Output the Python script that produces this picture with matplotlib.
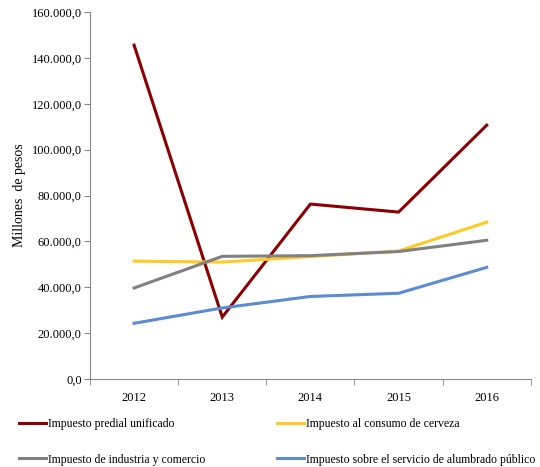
import matplotlib
matplotlib.use("Agg")
import matplotlib.pyplot as plt
from matplotlib.ticker import FuncFormatter
import numpy as np

years = ["2012", "2013", "2014", "2015", "2016"]
predial = [145600, 27000, 76300, 72800, 110700]
cerveza = [51400, 51000, 53400, 55800, 68400]
industria = [39700, 53500, 53800, 55600, 60500]
alumbrado = [24300, 31000, 36000, 37400, 48700]
labels = ["Impuesto predial unificado", "Impuesto al consumo de cerveza",
          "Impuesto de industria y comercio", "Impuesto sobre el servicio de alumbrado público"]
colors = ["#8B0000", "#FFC926", "#808080", "#5B8BD0"]

plt.rcParams['font.family'] = ['Liberation Serif', 'DejaVu Serif']

fig = plt.figure(figsize=(5.4, 4.67), dpi=100)
ax = fig.add_axes([0.1667, 0.1884, 0.8163, 0.7856])

x = np.arange(len(years))
series = [predial, cerveza, industria, alumbrado]
lines = []
for s, c, l in zip(series, colors, labels):
    ln, = ax.plot(x, s, color=c, lw=2.2, label=l, solid_joinstyle='miter')
    lines.append(ln)

ax.set_xlim(-0.5, len(years) - 0.5)
ax.set_ylim(0, 160000)
ax.set_yticks(np.arange(0, 160001, 20000))
ax.yaxis.set_major_formatter(FuncFormatter(lambda v, p: f"{v:,.1f}".replace(",", "X").replace(".", ",").replace("X", ".")))
ax.set_xticks(x)
ax.set_xticklabels(years)
ax.set_xticks(np.arange(-0.5, len(years)), minor=True)
ax.tick_params(axis='x', which='major', length=0, pad=9, labelsize=9)
ax.tick_params(axis='x', which='minor', length=4, color='#888888', direction='out')
ax.tick_params(axis='y', length=4, color='#888888', labelsize=9, pad=2)
for sp in ['top', 'right']:
    ax.spines[sp].set_visible(False)
for sp in ['left', 'bottom']:
    ax.spines[sp].set_color('#888888')
ax.set_ylabel("Millones  de pesos", fontsize=10, labelpad=4)

kw = dict(loc='upper left', frameon=False, fontsize=8.5, handlelength=2.3,
          handletextpad=0.15, labelspacing=2.0, borderaxespad=0, borderpad=0)
leg1 = fig.legend([lines[0], lines[2]], [labels[0], labels[2]],
                  bbox_to_anchor=(0.035, 0.105), **kw)
leg2 = fig.legend([lines[1], lines[3]], [labels[1], labels[3]],
                  bbox_to_anchor=(0.513, 0.105), **kw)

fig.savefig("out.png", dpi=100)
